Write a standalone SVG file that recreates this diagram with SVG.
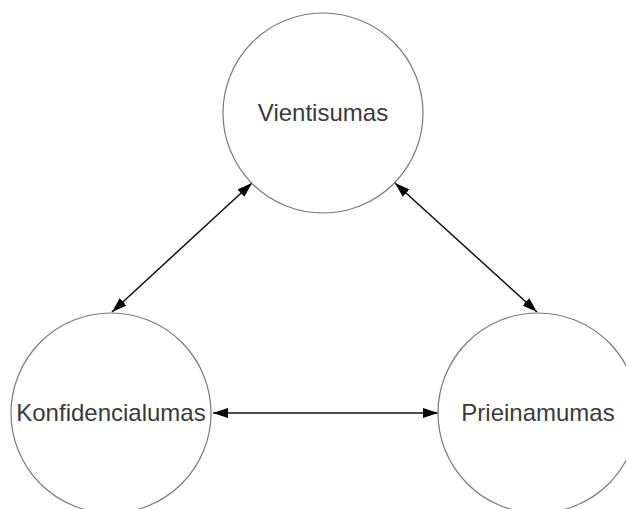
<svg xmlns="http://www.w3.org/2000/svg" width="626" height="509" viewBox="0 0 626 509">
  <style>
    .node circle { fill: #ffffff; stroke: #7a7a7a; stroke-width: 1.2; }
    .node text { font-family: "Liberation Sans", Arial, sans-serif; font-size: 24px; fill: #3a3a3a; text-anchor: middle; }
    .edge { stroke: #111111; stroke-width: 1.5; fill: none; marker-start: url(#head); marker-end: url(#head); }
  </style>
  <defs>
    <marker id="head" viewBox="0 0 15 10" refX="15" refY="5" markerWidth="15" markerHeight="10" markerUnits="userSpaceOnUse" orient="auto-start-reverse">
      <path d="M0,0 L15,5 L0,10 Z" fill="#000000"/>
    </marker>
  </defs>
  <rect width="626" height="509" fill="#ffffff"/>

  <g id="connectors">
    <line class="edge" x1="112" y1="312" x2="252" y2="183"/>
    <line class="edge" x1="395" y1="183" x2="537" y2="312"/>
    <line class="edge" x1="213" y1="413" x2="438" y2="413"/>
  </g>

  <g id="vientisumas" class="node">
    <circle cx="323" cy="113" r="100"/>
    <text x="323" y="121">Vientisumas</text>
  </g>

  <g id="konfidencialumas" class="node">
    <circle cx="111" cy="413" r="100"/>
    <text x="111" y="421">Konfidencialumas</text>
  </g>

  <g id="prieinamumas" class="node">
    <circle cx="538" cy="413" r="100"/>
    <text x="538" y="421">Prieinamumas</text>
  </g>
</svg>
